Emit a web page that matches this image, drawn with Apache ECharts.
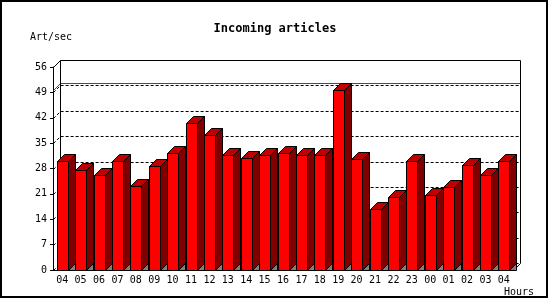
<!DOCTYPE html>
<html>
<head>
<meta charset="utf-8">
<script src="https://cdn.jsdelivr.net/npm/echarts@6/dist/echarts.min.js"></script>
<style>html,body{margin:0;padding:0;background:#fff}#c{width:550px;height:300px}</style>
</head>
<body>
<div id="c"></div>
<script>
var titleText = 'Incoming articles';
var yName = 'Art/sec';
var xName = 'Hours';
var hours = ['04','05','06','07','08','09','10','11','12','13','14','15','16','17','18','19','20','21','22','23','00','01','02','03','04'];
var artPerSec = [30.0,27.7,26.1,30.0,23.3,28.6,32.2,40.5,37.2,31.6,31.0,31.6,32.4,31.6,31.6,49.7,30.5,16.9,20.2,30.2,20.8,23.0,29.1,26.1,30.2];
var yTicks = [0,7,14,21,28,35,42,49,56];

var FONT = 'DejaVu Sans Mono';
var D = 7;
var maxVal = Math.max.apply(null, artPerSec);
function s(v){ return Math.round(v) + 0.5; }

var chart = echarts.init(document.getElementById('c'), null, {renderer:'canvas'});
var barData = artPerSec.map(function(v,i){ return [i, v]; });

chart.setOption({
  backgroundColor: '#fff',
  animation: false,
  title: {
    text: titleText, left: 'center', top: 18,
    textStyle: {fontFamily: FONT, fontSize: 12, fontWeight: 'bold', color: '#000'}
  },
  grid: {left: 53, right: 37, top: 67, bottom: 30, outerBoundsMode: 'none', containLabel: false},
  xAxis: {
    type: 'category', data: hours, boundaryGap: true,
    axisLine: {lineStyle: {color: '#000', width: 1}},
    axisTick: {length: 4, lineStyle: {color: '#000'}},
    axisLabel: {fontFamily: FONT, fontSize: 10, color: '#000', margin: 5, interval: 0},
    splitLine: {show: false}
  },
  yAxis: {
    type: 'value', min: yTicks[0], max: yTicks[yTicks.length-1], interval: yTicks[1]-yTicks[0],
    axisLine: {show: true, lineStyle: {color: '#000', width: 1}},
    axisTick: {show: true, length: 3, lineStyle: {color: '#000'}},
    axisLabel: {fontFamily: FONT, fontSize: 10, color: '#000', margin: 6},
    splitLine: {show: false}
  },
  graphic: [
    {type: 'rect', shape: {x: 1, y: 1, width: 546, height: 296}, style: {fill: null, stroke: '#000', lineWidth: 2}, silent: true},
    {type: 'text', left: 30, top: 32, style: {text: yName, fontFamily: FONT, fontSize: 10, fill: '#000'}},
    {type: 'text', left: 504, top: 287, style: {text: xName, fontFamily: FONT, fontSize: 10, fill: '#000'}}
  ],
  series: [
    {
      type: 'custom', name: 'frame', z: 1, silent: true,
      data: [[0, 0]],
      encode: {x: 0, y: 1},
      renderItem: function(params, api){
        var cs = params.coordSys;
        var xl = s(cs.x), xr = s(cs.x + cs.width);
        var yT = s(cs.y), yB = s(cs.y + cs.height);
        var ch = [];
        for (var i = 0; i < yTicks.length; i++) {
          var v = yTicks[i];
          if (v === yTicks[yTicks.length-1]) continue;
          var yv = s(api.coord([0, v])[1]);
          ch.push({type:'polyline', shape:{points:[[xl,yv],[xl+D,yv-D],[xr+D,yv-D]]},
            style:{stroke:'#000', lineWidth:1, lineDash:[3,2], fill:null}});
        }
        var ym = s(api.coord([0, maxVal])[1]);
        ch.push({type:'polyline', shape:{points:[[xl,ym],[xl+D,ym-D],[xr+D,ym-D]]},
          style:{stroke:'#ff0000', lineWidth:1, fill:null}});
        ch.push({type:'polyline', shape:{points:[[xl,yT],[xl+D,yT-D],[xr+D,yT-D],[xr+D,yB-D],[xr,yB]]},
          style:{stroke:'#000', lineWidth:1, fill:null}});
        ch.push({type:'line', shape:{x1:xl+D,y1:yT-D,x2:xl+D,y2:yB-D},
          style:{stroke:'#000', lineWidth:1}});
        return {type:'group', children: ch};
      }
    },
    {
      type: 'custom', name: 'Art/sec', z: 3,
      data: barData,
      encode: {x: 0, y: 1},
      renderItem: function(params, api){
        var idx = api.value(0), val = api.value(1);
        var c = api.coord([idx, val]);
        var b = api.coord([idx, 0]);
        var bw = api.size([1, 0])[0];
        var w = Math.round(bw * 0.6);
        var xl = Math.round(c[0] - w/2) + 0.5;
        var xr = xl + w;
        var yt = s(c[1]);
        var yb = s(b[1]);
        var blk = '#000';
        return {type:'group', children: [
          {type:'polygon', shape:{points:[[xr,yt],[xr+D,yt-D],[xr+D,yb-D],[xr,yb]]},
            style:{fill:'#800000', stroke:blk, lineWidth:1}},
          {type:'polygon', shape:{points:[[xr,yb],[xr+D,yb-D],[xr+D,yb]]},
            style:{fill:'#808080', stroke:blk, lineWidth:1}},
          {type:'polygon', shape:{points:[[xl,yt],[xl+D,yt-D],[xr+D,yt-D],[xr,yt]]},
            style:{fill:'#c00000', stroke:blk, lineWidth:1}},
          {type:'rect', shape:{x:xl, y:yt, width:w, height:yb-yt},
            style:{fill:'#ff0000', stroke:blk, lineWidth:1}}
        ]};
      }
    }
  ]
});
</script>
</body>
</html>
